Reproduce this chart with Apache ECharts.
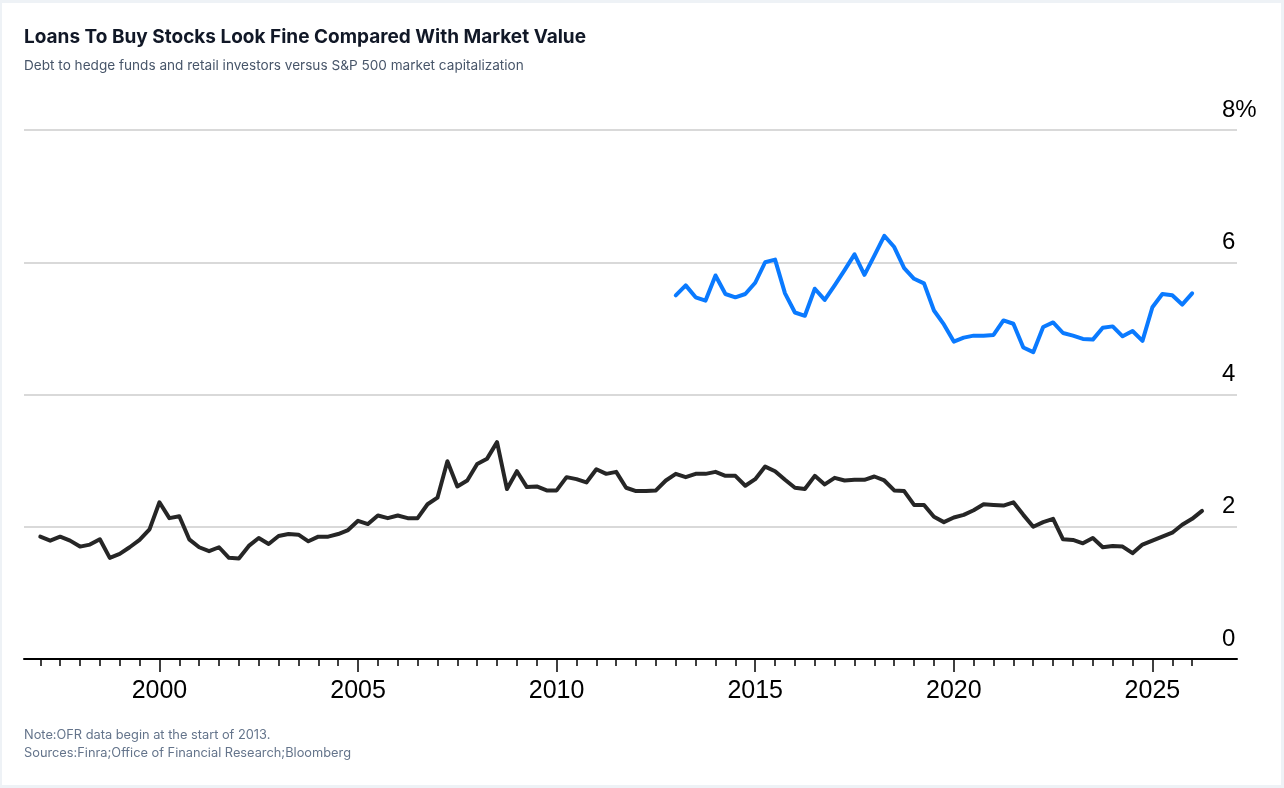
<!DOCTYPE html>
<html>
<head>
<meta charset="utf-8">
<title>Loans To Buy Stocks Look Fine Compared With Market Value</title>
<script src="https://cdn.jsdelivr.net/npm/echarts@6/dist/echarts.min.js"></script>
<style>
  html, body { margin: 0; padding: 0; background: #eef2f6; }
  #wrap { position: relative; width: 1284px; height: 788px; }
  #card { position: absolute; left: 2px; top: 3px; width: 1279px; height: 782px; background: #fff; }
  #chart { position: absolute; left: 0; top: 0; width: 1284px; height: 788px; }
</style>
</head>
<body>
<div id="wrap">
  <div id="card"></div>
  <div id="chart"></div>
</div>
<script>
// quarterly series, first quarter given as a decimal year
const finraStart = 1997.0;
const ofrStart = 2013.0;

// Finra margin debt / S&P 500 market cap, %
const finraValues = [
  1.85, 1.79, 1.85, 1.79, 1.70, 1.73, 1.81, 1.53, 1.59, 1.69,
  1.80, 1.96, 2.37, 2.13, 2.16, 1.81, 1.69, 1.63, 1.69, 1.53,
  1.52, 1.71, 1.83, 1.74, 1.86, 1.89, 1.88, 1.78, 1.85, 1.85,
  1.89, 1.95, 2.09, 2.04, 2.17, 2.13, 2.17, 2.13, 2.13, 2.34,
  2.44, 2.99, 2.61, 2.70, 2.95, 3.03, 3.28, 2.57, 2.84, 2.60,
  2.61, 2.55, 2.55, 2.75, 2.72, 2.67, 2.87, 2.80, 2.83, 2.59,
  2.54, 2.54, 2.55, 2.70, 2.80, 2.75, 2.80, 2.80, 2.83, 2.77,
  2.77, 2.62, 2.72, 2.91, 2.84, 2.71, 2.59, 2.57, 2.77, 2.64,
  2.74, 2.70, 2.71, 2.71, 2.76, 2.70, 2.55, 2.54, 2.33, 2.33,
  2.15, 2.07, 2.14, 2.18, 2.25, 2.34, 2.33, 2.32, 2.37, 2.18,
  2.00, 2.07, 2.12, 1.81, 1.80, 1.75, 1.83, 1.69, 1.71, 1.70,
  1.60, 1.73, 1.79, 1.85, 1.91, 2.03, 2.12, 2.24
];

// OFR hedge fund borrowing / S&P 500 market cap, %
const ofrValues = [
  5.50, 5.65, 5.47, 5.42, 5.80, 5.52, 5.47, 5.52, 5.69, 6.00,
  6.04, 5.53, 5.24, 5.19, 5.60, 5.43, 5.65, 5.88, 6.12, 5.81,
  6.10, 6.40, 6.23, 5.91, 5.75, 5.68, 5.27, 5.06, 4.80, 4.86,
  4.89, 4.89, 4.90, 5.12, 5.07, 4.71, 4.64, 5.02, 5.09, 4.93,
  4.89, 4.84, 4.83, 5.01, 5.03, 4.88, 4.96, 4.81, 5.32, 5.52,
  5.50, 5.36, 5.53
];

const yearLabels = [2000, 2005, 2010, 2015, 2020, 2025];
const yTicks = [0, 2, 4, 6, 8];

const titleText = 'Loans To Buy Stocks Look Fine Compared With Market Value';
const subtitleText = 'Debt to hedge funds and retail investors versus S&P 500 market capitalization';
const noteText = 'Note:OFR data begin at the start of 2013.';
const sourceText = 'Sources:Finra;Office of Financial Research;Bloomberg';

function toPairs(start, values) {
  return values.map((v, i) => [start + i * 0.25, v]);
}

// half-year ticks along the axis
const halfYearTicks = [];
for (let y = 1997; y <= 2026; y += 0.5) halfYearTicks.push(y);

const xMin = 1996.59;
const xMax = 2027.13;
const font = 'Liberation Sans, Arial, Helvetica, sans-serif';

const chart = echarts.init(document.getElementById('chart'), null, { renderer: 'canvas' });

const option = {
  animation: false,
  backgroundColor: 'transparent',
  title: [
    {
      text: titleText, left: 24, top: 27, padding: 0,
      textStyle: { fontFamily: 'Inter, sans-serif', fontSize: 19, fontWeight: 'bold', color: '#111827', lineHeight: 20 }
    },
    {
      text: subtitleText, left: 24, top: 59, padding: 0,
      textStyle: { fontFamily: 'Inter, sans-serif', fontSize: 13.6, fontWeight: 'normal', color: '#475569', lineHeight: 14 }
    },
    {
      text: noteText, left: 24, top: 728, padding: 0,
      textStyle: { fontFamily: 'Inter, sans-serif', fontSize: 12.8, fontWeight: 'normal', color: '#64748b', lineHeight: 14 }
    },
    {
      text: sourceText, left: 24, top: 746, padding: 0,
      textStyle: { fontFamily: 'Inter, sans-serif', fontSize: 12.8, fontWeight: 'normal', color: '#64748b', lineHeight: 14 }
    }
  ],
  grid: { left: 24, right: 47, top: 130, bottom: 129, containLabel: false },
  xAxis: [
    {
      type: 'value', min: xMin, max: xMax, position: 'bottom',
      axisLine: { show: true, lineStyle: { color: '#000', width: 2 } },
      axisTick: { show: true, customValues: halfYearTicks, length: 7, lineStyle: { color: '#000', width: 1.5 } },
      axisLabel: { show: false },
      splitLine: { show: false }
    },
    {
      type: 'value', min: xMin, max: xMax, position: 'bottom',
      axisLine: { show: false },
      axisTick: { show: true, customValues: yearLabels, length: 13, lineStyle: { color: '#000', width: 1.5 } },
      axisLabel: {
        show: true, customValues: yearLabels, margin: 20,
        fontFamily: font, fontSize: 25, color: '#000',
        formatter: v => String(v)
      },
      splitLine: { show: false }
    }
  ],
  yAxis: {
    type: 'value', min: 0, max: 8, interval: 2, position: 'right',
    axisLine: { show: false },
    axisTick: { show: false },
    axisLabel: {
      margin: -15, align: 'left', verticalAlign: 'bottom',
      fontFamily: font, fontSize: 24, color: '#000',
      lineHeight: 24, padding: [0, 0, 8, 0],
      formatter: v => (v === yTicks[yTicks.length - 1] ? v + '%' : String(v))
    },
    splitLine: { show: true, lineStyle: { color: '#cccccc', width: 1.5 } }
  },
  series: [
    {
      name: 'Finra', type: 'line', xAxisIndex: 0,
      data: toPairs(finraStart, finraValues),
      showSymbol: false, symbol: 'none',
      lineStyle: { color: '#262626', width: 4, join: 'round', cap: 'round' },
      z: 3
    },
    {
      name: 'OFR', type: 'line', xAxisIndex: 0,
      data: toPairs(ofrStart, ofrValues),
      showSymbol: false, symbol: 'none',
      lineStyle: { color: '#0a7aff', width: 4, join: 'round', cap: 'round' },
      z: 4
    }
  ]
};

chart.setOption(option);
</script>
</body>
</html>
